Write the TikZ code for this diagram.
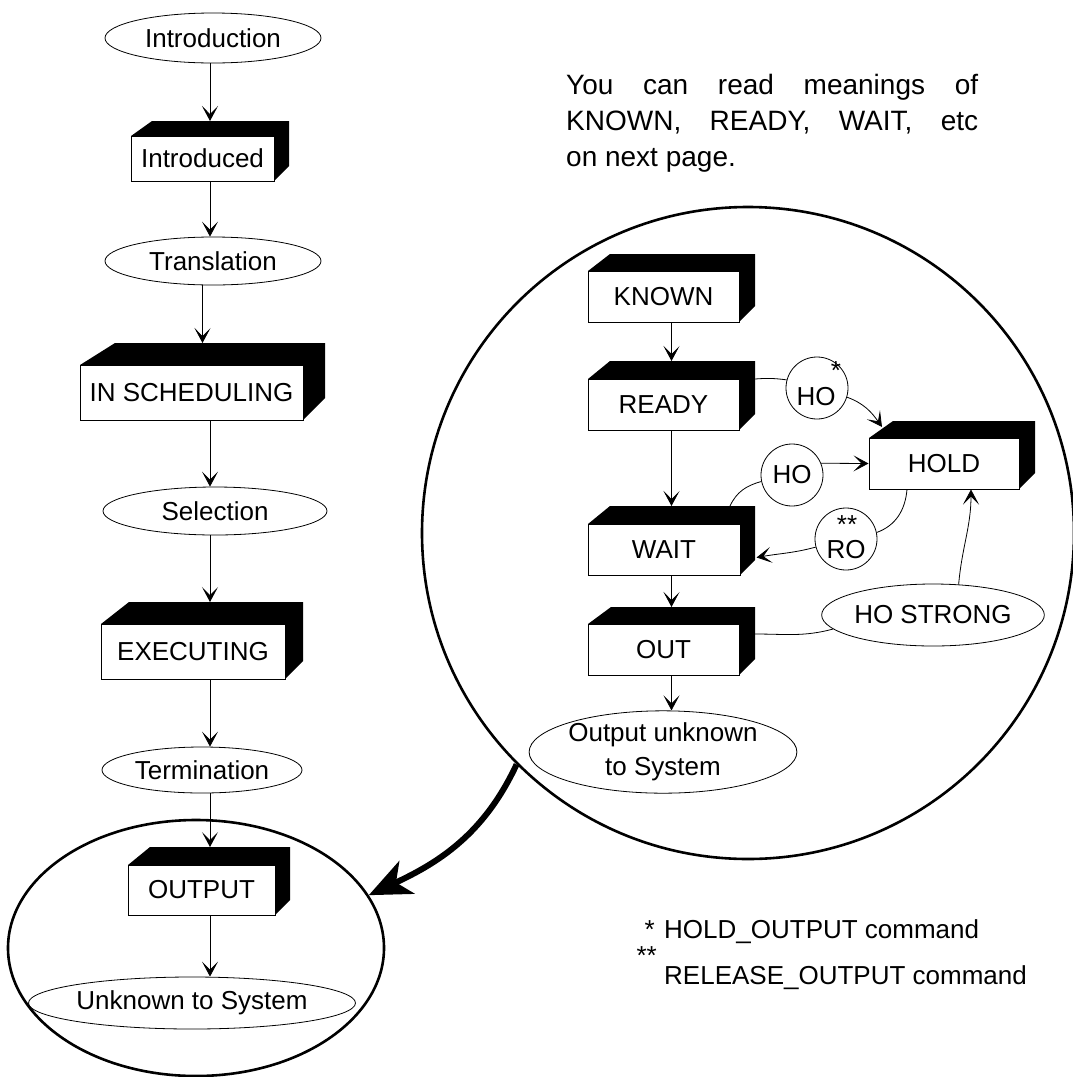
\documentclass[tikz,border=0pt]{standalone}
\usepackage{fontspec}
\setmainfont{Liberation Sans}
\usetikzlibrary{arrows.meta,shapes.geometric,calc}

% Solid 3-D box: #1 name, #2 #3 top-left of front face, #4 #5 bottom-right,
% #6 left slant, #7 top depth, #8 right depth, #9 label
\newcommand{\solidbox}[9]{%
  \fill ({#2},{#3}) -- ({#2+#6},{#3-#7}) -- ({#4+#8},{#3-#7})
        -- ({#4+#8},{#5-#8}) -- ({#4},{#5}) -- cycle;
  \node[frontface, minimum width={(#4-#2)*1pt}, minimum height={(#5-#3)*1pt}]
        (#1) at ({(#2+#4)/2},{(#3+#5)/2}) {#9};
  \coordinate (#1-t) at ({(#2+#4+#8)/2},{#3-#7});
  \coordinate (#1-r) at ({#4+#8},{#3});
}

\begin{document}
\begin{tikzpicture}[x=1pt,y=-1pt,
  every node/.style={font=\fontsize{26}{34}\selectfont, inner sep=0pt},
  frontface/.style={draw, fill=white, line width=1pt},
  oval/.style={ellipse, draw, line width=0.8pt},
  ring/.style={circle, draw, line width=0.8pt, minimum size=62pt},
  link/.style={line width=0.8pt},
  arr/.style={line width=0.8pt, -{Stealth[length=15pt,width=16pt,inset=8pt]}},
  zoomline/.style={draw, line width=2.6pt},
  notefont/.style={font=\fontsize{28}{34}\selectfont}]

\useasboundingbox (0,0) rectangle (1072,1077);

% ---- magnifier outlines ----
\node[zoomline, circle, minimum size=652pt] (zoomcircle) at (748,533) {};
\node[zoomline, ellipse, minimum width=376pt, minimum height=256pt] (zoomellipse) at (196,948) {};

% ---- main life cycle ----
\node[oval, minimum width=216pt, minimum height=50pt] (introduction) at (213,38) {Introduction};
\solidbox{introduced}{131}{136}{274}{181}{21}{15}{15}{Introduced}
\node[oval, minimum width=216pt, minimum height=48pt] (translation) at (213,261) {Translation};
\solidbox{insched}{80}{365}{303}{420}{35}{22}{22}{IN SCHEDULING}
\node[oval, minimum width=224pt, minimum height=48pt] (selection) at (215,511) {Selection};
\solidbox{executing}{101}{624}{285}{679}{28}{22}{18}{EXECUTING}
\node[oval, minimum width=200pt, minimum height=46pt] (termination) at (202,770) {Termination};
\solidbox{output}{128}{865}{275}{915}{22}{18}{15}{OUTPUT}
\node[oval, minimum width=306pt, minimum height=52pt] (unknown) at (192,1003) {Unknown to System};

\draw[arr] (introduction.south -| introduced-t) -- (introduced-t);
\draw[arr] (introduced.south -| introduced-t) -- (translation.north -| introduced-t);
\draw[arr] (translation.south -| insched-t) -- (insched-t);
\draw[arr] (insched.south -| introduced-t) -- (selection.north -| introduced-t);
\draw[arr] (selection.south -| introduced-t) -- (executing-t -| introduced-t);
\draw[arr] (executing.south -| introduced-t) -- (termination.north -| introduced-t);
\draw[arr] (termination.south -| introduced-t) -- (output-t -| introduced-t);
\draw[arr] (output.south -| introduced-t) -- (unknown.north -| introduced-t);

% ---- output states ----
\solidbox{known}{588}{271}{739}{322}{22}{17}{16}{KNOWN}
\solidbox{ready}{588}{379}{739}{430}{22}{18}{16}{READY}
\solidbox{wait}{588}{524}{740}{575}{22}{18}{15}{WAIT}
\solidbox{out}{588}{624}{739}{675}{23}{17}{16}{OUT}
\solidbox{hold}{869}{438}{1019}{489}{24}{17}{16}{HOLD}
\node[oval, minimum width=214pt, minimum height=80pt, align=center] (outunknown) at (663,752) {Output unknown\\to System};
\node[oval, minimum width=190pt, minimum height=62pt] (hostrong) at (933,615) {HO STRONG};

\node[ring] (hostar) at (817,388) {};
\node (hostartxt) at (816,397) {HO};
\node (hostarmark) at (836,371) {*};
\node[ring] (ho) at (792,475) {HO};
\node[ring] (ro) at (846,539) {};
\node (rotxt) at (846,550) {RO};
\node (romark) at (847,525) {**};

\draw[arr] (known.south -| known-t) -- (ready-t);
\draw[arr] (ready.south -| ready-t) -- (wait-t);
\draw[arr] (wait.south -| ready-t) -- (out-t -| ready-t);
\draw[arr] (out.south -| ready-t) -- (outunknown.north -| ready-t);

\coordinate (holdslant) at (882,427);
\coordinate (waitedge) at (730,506);
\draw[link] (ready-r) to[bend left=6] (hostar.165);
\draw[arr] (hostar.-17) to[out=-20,in=125] (holdslant);
\draw[link] (waitedge) to[out=65,in=195] (ho.192);
\draw[arr] (ho.22) -- (hold.west);
\draw[link] (hold.south -| 907,0) to[out=-95,in=20] (ro.12);
\draw[arr] (ro.195) to[out=195,in=10] ($(wait.east)+(16,8)$);
\draw[link] ($(out-r)+(0,10)$) to[out=0,in=195] (hostrong.188);
\draw[arr] (hostrong.50) to[out=85,in=-90] ($(hold.south)+(27,0)$);

% ---- magnifier pointer ----
\draw[line width=6pt, -{Stealth[length=42pt,width=36pt,inset=12pt]}]
  (zoomcircle.225) to[out=245,in=25] (zoomellipse.17);

% ---- notes ----
\node[notefont, anchor=base west] (note1) at (566,94) {\makebox[412pt][s]{You can read meanings of}};
\node[notefont, anchor=base west] (note2) at (566,130) {\makebox[412pt][s]{KNOWN, READY, WAIT, etc}};
\node[notefont, anchor=base west] (note3) at (566,166) {on next page.};

\node[anchor=base east] (star1) at (655,938) {*};
\node[anchor=base west] (foot1) at (664,938) {HOLD\_OUTPUT command};
\node[anchor=base east] (star2) at (657,964) {**};
\node[anchor=base west] (foot2) at (664,984) {RELEASE\_OUTPUT command};
\end{tikzpicture}
\end{document}
